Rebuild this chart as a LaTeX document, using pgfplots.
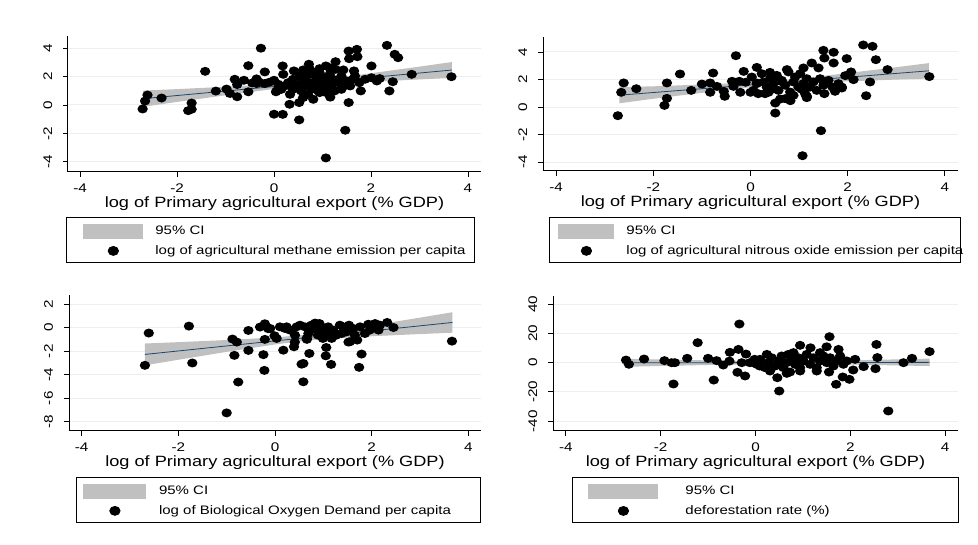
\documentclass[border=0pt]{standalone}
\usepackage{fontspec}
\setmainfont{Liberation Sans}[FakeStretch=1.22]
\usepackage{pgfplots}
\pgfplotsset{compat=1.18}
\definecolor{cigray}{RGB}{192,192,192}
\definecolor{fitblue}{RGB}{26,71,111}
\definecolor{gridc}{RGB}{232,240,242}
\pgfdeclareplotmark{oval}{\pgfpathellipse{\pgfpointorigin}{\pgfpoint{1.15\pgfplotmarksize}{0pt}}{\pgfpoint{0pt}{\pgfplotmarksize}}\pgfusepathqfill}
\pgfplotsset{
  panel/.style={
    scale only axis,
    anchor=south west,
    axis x line*=bottom, axis y line*=left,
    axis line style={-, black, line width=1pt},
    tick align=outside,
    major tick length=5pt,
    tick style={black, line width=0.8pt},
    ymajorgrids,
    grid style={gridc, line width=1pt},
    xtick={-4,-2,0,2,4}, xticklabels={-4,-2,0,2,4},
    tick label style={font=\fontsize{12.5}{14}\selectfont},
    xticklabel style={anchor=base, yshift=-15.7pt},
    yticklabel style={anchor=base, xshift=-11pt, rotate=90},
    xlabel={log of Primary agricultural export (\% GDP)},
    xlabel style={at={(axis description cs:0.5,0)}, anchor=base, yshift=-35.7pt, font=\fontsize{14.9}{16}\selectfont},
    legend style={anchor=north west, draw=black, line width=0.8pt, fill=white,
      font=\fontsize{12.3}{14}\selectfont, inner ysep=6.3pt, row sep=7pt,
      nodes={inner sep=0pt}},
    legend cell align=left,
  },
  ciband/.style={fill=cigray, draw=none,
    legend image code/.code={\fill[cigray] (0pt,-7.5pt) rectangle (#1,7.5pt);}},
  dots/.style={only marks, mark=oval, mark size=4.5pt, black,
    legend image code/.code={\path[draw=none,fill=none] (0pt,0pt) rectangle (#1,0.1pt); \fill[black] (0.5*#1,0pt) ellipse (5.2pt and 4.5pt);}},
  fit/.style={fitblue, line width=0.8pt, forget plot},
}
\begin{document}
\begin{tikzpicture}[x=1pt,y=1pt]
\fill[white] (0,0) rectangle (978,545);
\useasboundingbox (0,0) rectangle (978,545);

% ---------- Panel 1: methane ----------
\begin{axis}[panel, at={(68pt,373pt)}, width=413pt, height=136pt,
  xmin=-4.25, xmax=4.27, ymin=-4.72, ymax=4.86,
  ytick={-4,-2,0,2,4}, yticklabels={-4,-2,0,2,4},
  legend style={at={(-0.005,-0.331)}, inner xsep=17pt, column sep=12pt}]
\addplot[ciband=60pt] coordinates {
 (-2.7,1.014) (-2,1.116) (-1,1.283) (0,1.47) (0.5,1.609) (1,1.787) (2,2.234) (3,2.701) (3.67,3.023)
 (3.67,1.903) (3,1.801) (2,1.634) (1,1.447) (0.5,1.309) (0,1.13) (-1,0.683) (-2,0.216) (-2.7,-0.126)};
\addlegendentry{95\% CI}
\addplot[fit] coordinates {(-2.7,0.444) (3.67,2.463)};
\addplot[dots=60pt] coordinates {
 (-2.71,-0.28)(-2.66,0.28)(-2.61,0.70)(-2.32,0.49)(-1.77,-0.40)(-1.70,-0.30)(-1.70,0.14)(-1.42,2.37)
 (-1.20,0.98)(-0.98,1.12)(-0.91,0.81)(-0.81,1.81)(-0.76,0.58)(-0.76,1.44)(-0.62,1.74)(-0.53,2.77)
 (-0.53,0.93)(-0.36,1.84)(-0.36,1.51)(-0.27,4.0)(-0.19,2.33)(-0.19,1.51)(-0.10,1.60)(0.0,1.74)
 (0.0,-0.65)(0.04,0.93)(-0.30,1.60)(-0.45,1.55)
 (0.055,0.99)(0.178,2.75)(0.19,2.16)(0.18,-0.66)(0.32,0.05)(0.41,2.40)(0.52,0.17)(0.52,-1.05)
 (0.60,2.47)(0.72,2.87)(0.94,2.56)(1.07,2.75)(1.07,-3.73)(1.27,3.05)(1.16,0.55)(1.43,2.47)
 (1.47,-1.78)(1.54,0.17)(1.54,3.8)(1.71,3.92)(1.55,3.26)(1.72,3.4)(1.65,2.40)(1.79,0.99)
 (2.01,2.75)(1.88,1.81)(2.12,1.69)(2.38,0.99)(2.33,4.2)(2.49,3.57)(2.56,3.33)(2.45,1.64)
 (2.84,2.16)(3.66,1.99)(2.01,1.92)(2.18,1.86)
 (0.089,1.46)(0.22,1.34)(0.29,1.57)(0.39,1.81)(0.43,1.22)(0.46,1.46)(0.53,2.04)(0.56,0.99)
 (0.60,1.69)(0.63,1.34)(0.67,2.04)(0.70,0.75)(0.74,1.57)(0.77,1.10)(0.81,2.16)(0.84,1.46)
 (0.87,1.81)(0.91,0.99)(0.94,2.28)(0.98,1.57)(1.01,1.22)(1.05,1.92)(1.08,0.87)(1.12,1.57)
 (1.15,2.16)(1.18,1.34)(1.22,1.81)(1.25,0.99)(1.32,1.57)(1.39,2.04)(1.43,1.34)(1.50,1.69)
 (1.57,1.34)(1.63,1.81)(1.67,2.04)(0.39,1.10)(0.33,0.75)(0.81,0.40)(0.60,0.52)(0.94,0.87)
 (1.39,1.10)(1.76,1.57)(0.15,1.10)(0.74,2.51)(1.15,2.62)(1.27,2.51)};
\addlegendentry{\makebox[302pt][l]{log of agricultural methane emission per capita}}
\end{axis}

% ---------- Panel 2: nitrous oxide ----------
\begin{axis}[panel, at={(543pt,374pt)}, width=415pt, height=134pt,
  xmin=-4.27, xmax=4.27, ymin=-4.65, ymax=5.09,
  ytick={-4,-2,0,2,4}, yticklabels={-4,-2,0,2,4},
  legend style={at={(0.0145,-0.343)}, inner xsep=9pt, column sep=12pt}]
\addplot[ciband=56pt] coordinates {
 (-2.7,1.449) (-2,1.504) (-1,1.632) (0,1.78) (0.5,1.899) (1,2.058) (2,2.466) (3,2.894) (3.67,3.19)
 (3.67,2.07) (3,1.994) (2,1.866) (1,1.718) (0.5,1.599) (0,1.44) (-1,1.032) (-2,0.604) (-2.7,0.269)};
\addlegendentry{95\% CI}
\addplot[fit] coordinates {(-2.7,0.859) (3.67,2.630)};
\addplot[dots=56pt] coordinates {
 (-2.73,-0.63)(-2.66,1.07)(-2.61,1.75)(-2.35,1.33)(-1.77,0.12)(-1.72,0.63)(-1.72,1.75)(-1.45,2.40)
 (-1.22,1.21)(-1.0,1.67)(-0.83,1.07)(-0.77,2.47)(-0.83,1.75)(-0.69,1.5)(-0.53,0.78)(-0.55,1.14)
 (-0.38,1.87)(-0.30,3.73)(-0.35,1.5)(-0.23,1.87)(-0.21,1.07)(-0.14,2.59)(0.0,1.07)(0.13,2.88)
 (0.13,1.75)(0.16,0.97)(0.37,1.07)(0.40,2.52)(0.51,-0.44)(0.51,0.29)(0.61,0.58)(0.75,2.72)
 (0.82,0.46)(1.09,2.84)(1.07,-3.54)(1.16,0.78)(1.26,3.2)(1.40,2.84)(1.45,-1.72)(1.50,4.12)
 (1.52,3.56)(1.52,0.97)(1.71,3.98)(1.71,3.2)(1.74,1.14)(1.88,1.38)(1.98,3.52)(1.95,2.28)
 (2.07,2.55)(2.12,1.99)(2.32,4.51)(2.38,0.82)(2.46,1.82)(2.51,4.41)(2.58,3.44)(2.82,2.72)(3.68,2.21)
 (0.026,2.18)(0.129,1.70)(0.232,2.42)(0.266,1.82)(0.335,1.45)(0.403,2.06)(0.472,1.70)(0.540,2.30)
 (0.575,1.21)(0.643,1.94)(0.712,1.58)(0.780,2.55)(0.815,1.09)(0.883,1.82)(0.918,2.18)(0.986,1.45)
 (1.021,2.42)(1.089,1.70)(1.123,0.97)(1.158,2.06)(1.226,1.45)(1.295,1.82)(1.363,1.21)(1.432,2.06)
 (1.501,1.58)(1.604,1.94)(1.686,1.45)(1.741,1.21)(1.809,1.70)(1.878,1.45)(0.060,1.21)(0.300,0.97)
 (0.712,0.61)(0.883,0.85)(1.158,0.68)(1.05,1.3)(0.6,1.9)(0.45,1.3)(-0.10,1.80)};
\addlegendentry{\makebox[325pt][l]{log of agricultural nitrous oxide emission per capita}}
\end{axis}

% ---------- Panel 3: BOD ----------
\begin{axis}[panel, at={(69pt,114pt)}, width=412pt, height=136pt,
  xmin=-4.26, xmax=4.26, ymin=-8.79, ymax=2.79,
  ytick={-8,-6,-4,-2,0,2}, yticklabels={-8,-6,-4,-2,0,2},
  legend style={at={(0.017,-0.338)}, inner xsep=7pt, column sep=12.6pt}]
\addplot[ciband=63pt] coordinates {
 (-2.69,-1.342) (-2,-1.226) (-1,-1.046) (0,-0.822) (0.6,-0.613) (1,-0.419) (2,0.192) (3,0.863) (3.67,1.323)
 (3.67,-0.421) (3,-0.535) (2,-0.720) (1,-0.965) (0.6,-1.113) (0,-1.418) (-1,-2.050) (-2,-2.726) (-2.69,-3.200)};
\addlegendentry{95\% CI}
\addplot[fit] coordinates {(-2.69,-2.271) (3.67,0.451)};
\addplot[dots=63pt] coordinates {
 (-2.69,-3.2)(-2.61,-0.45)(-1.78,0.14)(-1.71,-3.0)(-1.0,-7.25)(-0.88,-0.96)(-0.84,-2.35)(-0.79,-1.22)
 (-0.76,-4.62)(-0.55,-0.23)(-0.55,-1.93)(-0.31,0.06)(-0.24,-2.29)(-0.22,-3.63)(-0.21,0.34)(-0.21,-0.99)
 (-0.14,-0.08)(-0.01,-0.68)
 (-0.10,-0.06)(0.034,-0.91)(0.172,-1.91)(0.206,-0.06)(0.24,0.08)(0.413,-0.63)(0.393,-1.62)(0.517,0.22)
 (0.586,-3.04)(0.55,-3.1)(0.586,-4.6)(0.655,-0.91)(0.71,-2.19)(0.75,0.22)(0.85,-0.15)(0.92,0.36)
 (1.03,-0.63)(1.06,-1.68)(1.05,-2.39)(1.10,0.08)(1.16,-3.12)(1.17,-0.91)(1.34,0.22)(1.38,-0.49)
 (1.53,0.22)(1.55,-1.19)(1.70,-1.05)(1.74,-3.37)(1.79,-2.24)(1.76,0.08)(1.86,-0.49)(1.93,0.30)
 (2.07,0.36)(2.14,-0.20)(2.32,0.45)(2.45,0.02)(3.66,-1.14)
 (0.103,0.08)(0.31,-0.20)(0.448,0.08)(0.62,0.08)(0.69,-0.49)(0.82,0.22)(0.89,-0.63)(0.96,-0.06)
 (0.99,-0.91)(1.20,-0.20)(1.27,-0.63)(1.41,0.08)(1.48,-0.35)(1.62,-0.06)(1.65,-0.63)(1.96,-0.20)
 (2.10,0.08)(1.10,-0.49)(0.72,-0.20)(2.17,0.22)(0.41,-1.22)(0.66,-0.99)(0.83,0.40)(1.52,-1.22)};
\addlegendentry{\makebox[314pt][l]{log of Biological Oxygen Demand per capita}}
\end{axis}

% ---------- Panel 4: deforestation ----------
\begin{axis}[panel, at={(553pt,114pt)}, width=405pt, height=135pt,
  xmin=-4.27, xmax=4.27, ymin=-46.8, ymax=45.7,
  ytick={-40,-20,0,20,40}, yticklabels={-40,-20,0,20,40},
  legend style={at={(0.047,-0.341)}, inner xsep=16pt, column sep=27pt}]
\addplot[ciband=70pt] coordinates {
 (-2.73,2.643) (-2,2.17) (-1,1.58) (0,1.15) (0.6,1.08) (1,1.15) (2,1.61) (3,2.28) (3.67,2.774)
 (3.67,-2.306) (3,-1.88) (2,-1.31) (1,-0.95) (0.6,-0.92) (0,-1.05) (-1,-1.58) (-2,-2.27) (-2.73,-2.817)};
\addlegendentry{95\% CI}
\addplot[fit] coordinates {(-2.73,-0.087) (3.67,0.234)};
\addplot[dots=70pt] coordinates {
 (-2.73,1.8)(-2.67,-1.1)(-2.35,2.5)(-1.92,1.4)(-1.77,0)(-1.70,0)(-1.73,-14.6)(-1.44,3.0)
 (-1.22,13.7)(-1.0,3.0)(-0.88,-11.9)(-0.82,1.4)(-0.68,-1.6)(-0.55,1.1)(-0.54,7.1)(-0.38,-6.6)
 (-0.36,9.1)(-0.34,26.5)(-0.22,-9.1)(-0.20,5.9)(-0.29,0)(0.0,1.8)(-0.12,0)(-0.02,2.3)(0.09,-2.3)
 (1.56,17.8)(0.94,11.9)(1.16,10.2)(1.50,10.9)(1.75,9.1)(2.55,12.5)(3.67,7.6)(3.30,3.0)
 (3.12,0)(2.57,3.5)(2.53,-4.1)(2.80,-33.1)(0.50,-19.4)(0.46,-10.3)(1.70,-14.8)(1.84,-9.8)
 (1.98,-11.4)(2.10,2.3)(2.06,-5.0)(2.28,-2.7)(0.66,-7.3)(0.94,-5.7)(1.55,-6.4)(-0.045,0)(0.24,5.7)
 (0.025,-1.1)(0.095,2.3)(0.201,-3.4)(0.271,0.0)(0.341,3.4)(0.412,-2.3)(0.482,1.2)(0.552,4.6)
 (0.588,-3.4)(0.658,0.0)(0.693,5.7)(0.764,2.3)(0.834,-1.1)(0.904,3.4)(0.939,-3.4)(1.010,1.2)
 (1.080,5.7)(1.150,-1.1)(1.221,3.4)(1.291,-3.4)(1.362,1.2)(1.432,4.6)(1.502,0.0)(1.573,3.4)
 (1.643,-2.3)(1.713,1.2)(1.784,4.6)(1.854,-1.1)(1.924,1.2)(0.306,-5.7)(0.728,-6.4)(1.291,-5.7)
 (0.799,6.9)(1.362,6.9)};
\addlegendentry{\makebox[257pt][l]{deforestation rate (\%)}}
\end{axis}
\end{tikzpicture}
\end{document}
